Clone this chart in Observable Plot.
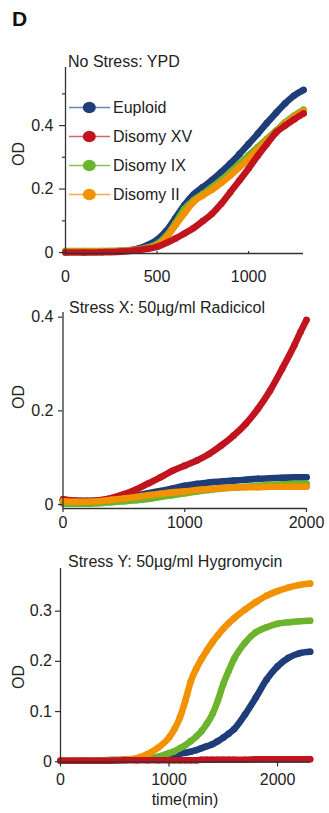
<!DOCTYPE html>
<html><head><meta charset="utf-8">
<script src="https://cdn.jsdelivr.net/npm/d3@7"></script>
<script src="https://cdn.jsdelivr.net/npm/@observablehq/plot@0.6"></script>
<style>
body{margin:0;background:#fff;}
#root{position:relative;width:329px;height:813px;overflow:hidden;background:#fff;font-family:"Liberation Sans",Arial,sans-serif;}
#root svg{position:absolute;left:0;}
</style></head><body><div id="root"></div>
<script>
// ---------- data ----------
const strains = ["Euploid", "Disomy XV", "Disomy IX", "Disomy II"];
const colors = ["#1f3d78", "#c1141f", "#6cb42e", "#f39200"];
const legendLineColors = ["#6a86b0", "#d9646c", "#86c452", "#f7ac4a"];
const panelTitles = ["No Stress: YPD", "Stress X: 50µg/ml Radicicol", "Stress Y: 50µg/ml Hygromycin"];
const yLabel = "OD";
const xLabel = "time(min)";
const panelLetter = "D";

// Panel 1: No stress (YPD)
const t1 = [0,100,200,300,350,400,450,500,550,600,650,700,750,800,850,900,950,1000,1050,1100,1150,1200,1250,1300];
const p1Euploid = [0.003,0.003,0.003,0.004,0.007,0.013,0.024,0.040,0.068,0.108,0.150,0.183,0.206,0.228,0.253,0.280,0.310,0.342,0.374,0.408,0.440,0.470,0.495,0.512];
const p1XV      = [0.000,0.000,0.001,0.003,0.005,0.008,0.012,0.018,0.030,0.044,0.060,0.077,0.099,0.122,0.153,0.190,0.227,0.265,0.305,0.342,0.378,0.400,0.420,0.438];
const p1IX      = [0.005,0.005,0.005,0.006,0.007,0.010,0.016,0.027,0.052,0.092,0.138,0.165,0.185,0.206,0.228,0.253,0.280,0.306,0.332,0.358,0.384,0.410,0.432,0.450];
const p1II      = [0.003,0.003,0.003,0.004,0.006,0.009,0.014,0.022,0.046,0.086,0.124,0.160,0.180,0.198,0.219,0.243,0.269,0.295,0.324,0.352,0.380,0.406,0.428,0.446];

// Panel 2: Radicicol
const t2 = [0,100,200,300,400,500,600,700,800,900,1000,1100,1200,1300,1400,1500,1600,1700,1800,1900,1950,2000];
const p2Euploid = [0.009,0.008,0.008,0.009,0.011,0.015,0.019,0.024,0.029,0.034,0.040,0.044,0.047,0.049,0.051,0.053,0.055,0.056,0.057,0.058,0.058,0.058];
const p2XV      = [0.011,0.008,0.007,0.009,0.014,0.022,0.032,0.045,0.058,0.072,0.083,0.094,0.108,0.126,0.147,0.172,0.204,0.243,0.290,0.340,0.368,0.394];
const p2IX      = [0.002,0.002,0.002,0.003,0.005,0.007,0.009,0.012,0.016,0.020,0.024,0.028,0.031,0.034,0.036,0.038,0.040,0.042,0.043,0.044,0.044,0.045];
const p2II      = [0.007,0.006,0.006,0.007,0.010,0.013,0.016,0.020,0.023,0.026,0.028,0.031,0.033,0.035,0.036,0.037,0.037,0.038,0.038,0.038,0.038,0.038];

// Panel 3: Hygromycin
const t3 = [0,200,400,600,700,800,900,1000,1050,1100,1150,1200,1250,1300,1350,1400,1450,1500,1550,1600,1700,1800,1900,2000,2100,2200,2300];
const p3Euploid = [0.002,0.002,0.003,0.004,0.005,0.006,0.008,0.011,0.013,0.016,0.018,0.020,0.023,0.027,0.031,0.035,0.041,0.048,0.056,0.065,0.094,0.128,0.164,0.190,0.207,0.216,0.219];
const p3XV      = [0.002,0.002,0.002,0.003,0.003,0.003,0.003,0.003,0.003,0.003,0.003,0.003,0.003,0.004,0.004,0.004,0.004,0.004,0.004,0.004,0.004,0.005,0.005,0.005,0.005,0.005,0.005];
const p3IX      = [0.002,0.002,0.003,0.004,0.005,0.006,0.010,0.017,0.021,0.027,0.033,0.041,0.050,0.061,0.076,0.095,0.122,0.155,0.181,0.205,0.237,0.258,0.268,0.275,0.278,0.280,0.281];
const p3II      = [0.002,0.002,0.002,0.004,0.007,0.015,0.028,0.048,0.065,0.088,0.121,0.160,0.185,0.205,0.222,0.238,0.252,0.265,0.276,0.286,0.303,0.318,0.331,0.340,0.347,0.352,0.355];

const xTicks1 = [0, 500, 1000];
const xTicks2 = [0, 1000, 2000];
const xTicks3 = [0, 1000, 2000];
const yTicks1 = [0, 0.2, 0.4];
const yMinor1 = [0.1, 0.3, 0.5];
const yTicks2 = [0, 0.2, 0.4];
const yTicks3 = [0, 0.1, 0.2, 0.3];

// ---------- helpers ----------
function rows(t, seriesArr, order) {
  const out = [];
  order.forEach(si => {
    t.forEach((tt, i) => out.push({t: tt, od: seriesArr[si][i], strain: strains[si]}));
  });
  return out;
}
const axisColor = "#333";
const fmt = d => d === 0 ? "0" : String(d);

function panel(cfg) {
  const data = rows(cfg.t, cfg.series, cfg.order);
  const marks = [];
  cfg.order.forEach(si => {
    const d = data.filter(r => r.strain === strains[si]);
    marks.push(Plot.line(d, {x: "t", y: "od", stroke: colors[si], strokeWidth: 6.6, curve: "monotone-x", strokeLinecap: "round", strokeLinejoin: "round"}));
    marks.push(Plot.dot(d, {x: "t", y: "od", r: 3.3, fill: colors[si], stroke: "none"}));
  });
  marks.push(Plot.ruleX([cfg.xDomain[0]], {stroke: axisColor, strokeWidth: 1.3}));
  marks.push(Plot.ruleY([cfg.yDomain[0]], {stroke: axisColor, strokeWidth: 1.3}));
  marks.push(Plot.axisY(cfg.yTicks, {tickSize: cfg.yTickSize, tickPadding: cfg.yPad, tickFormat: fmt, fontSize: 16, stroke: axisColor, fill: "#222", strokeWidth: 1.2}));
  if (cfg.yMinor) marks.push(Plot.axisY(cfg.yMinor, {tickSize: 3, tickFormat: () => "", stroke: axisColor, strokeWidth: 1.2}));
  if (cfg.xUp) {
    marks.push(Plot.axisX(cfg.xTicks, {anchor: "top", frameAnchor: "bottom", tickSize: 3, tickFormat: () => "", stroke: axisColor, strokeWidth: 1.2}));
    marks.push(Plot.axisX(cfg.xTicks, {tickSize: 0, tickPadding: cfg.xPad, tickFormat: fmt, fontSize: 16, fill: "#222"}));
  } else {
    marks.push(Plot.axisX(cfg.xTicks, {tickSize: cfg.xTickSize, tickPadding: cfg.xPad, tickFormat: fmt, fontSize: 16, stroke: axisColor, fill: "#222", strokeWidth: 1.2}));
  }
  const svg = Plot.plot({
    width: 329, height: cfg.height,
    marginLeft: cfg.ml, marginRight: cfg.mr, marginTop: cfg.mt, marginBottom: cfg.mb,
    x: {domain: cfg.xDomain, label: null},
    y: {domain: cfg.yDomain, label: null},
    style: {fontFamily: '"Liberation Sans", Arial, sans-serif', fontSize: "16px", background: "transparent", overflow: "visible"},
    marks
  });
  svg.style.top = cfg.top + "px";
  return svg;
}

const root = document.getElementById("root");

// Panel 1
root.appendChild(panel({
  t: t1, series: [p1Euploid, p1XV, p1IX, p1II], order: [0, 2, 3, 1],
  top: 40, height: 260, ml: 65, mr: 26, mt: 27, mb: 47,
  xDomain: [0, 1300], yDomain: [-0.003, 0.583],
  xTicks: xTicks1, yTicks: yTicks1, yMinor: yMinor1,
  yTickSize: 6, yPad: 6, xUp: true, xPad: 17.5
}));
// Panel 2
root.appendChild(panel({
  t: t2, series: [p2Euploid, p2XV, p2IX, p2II], order: [0, 2, 1, 3],
  top: 290, height: 250, ml: 62.5, mr: 23, mt: 22, mb: 32,
  xDomain: [0, 2000], yDomain: [-0.0085, 0.41],
  xTicks: xTicks2, yTicks: yTicks2,
  yTickSize: 4.5, yPad: 5, xTickSize: 4, xPad: 4.6
}));
// Panel 3
root.appendChild(panel({
  t: t3, series: [p3Euploid, p3XV, p3IX, p3II], order: [0, 2, 3, 1],
  top: 540, height: 273, ml: 60, mr: 19.4, mt: 28, mb: 51.5,
  xDomain: [0, 2300], yDomain: [-0.0005, 0.385],
  xTicks: xTicks3, yTicks: yTicks3,
  yTickSize: 5, yPad: 3.5, xTickSize: 5, xPad: 7
}));

// ---------- overlay text & legend ----------
const ov = d3.select(root).append("svg")
  .attr("width", 329).attr("height", 813)
  .style("top", "0px")
  .style("font-family", '"Liberation Sans", Arial, sans-serif')
  .style("pointer-events", "none");

ov.append("text").attr("x", 12).attr("y", 25.5).attr("font-size", 21).attr("font-weight", "bold").attr("fill", "#111").text(panelLetter);

const titlePos = [[68, 66.5], [69, 313], [68, 566.5]];
panelTitles.forEach((tt, i) => {
  ov.append("text").attr("x", titlePos[i][0]).attr("y", titlePos[i][1]).attr("font-size", 16).attr("fill", "#222").text(tt);
});

[154, 397, 677].forEach(cy => {
  ov.append("text").attr("transform", `translate(23.5,${cy}) rotate(-90)`).attr("text-anchor", "middle")
    .attr("font-size", 16).attr("fill", "#222").text(yLabel);
});

ov.append("text").attr("x", 185).attr("y", 805).attr("text-anchor", "middle").attr("font-size", 16).attr("fill", "#222").text(xLabel);

// legend
strains.forEach((s, i) => {
  const y = 107.5 + i * 29;
  const g = ov.append("g");
  g.append("line").attr("x1", 69).attr("x2", 110).attr("y1", y).attr("y2", y).attr("stroke", legendLineColors[i]).attr("stroke-width", 1.6);
  g.append("ellipse").attr("cx", 89.3).attr("cy", y).attr("rx", 6.5).attr("ry", 5.8).attr("fill", colors[i]);
  g.append("text").attr("x", 113).attr("y", y + 5.7).attr("font-size", 16).attr("fill", "#222").text(s);
});
</script>
</body></html>
